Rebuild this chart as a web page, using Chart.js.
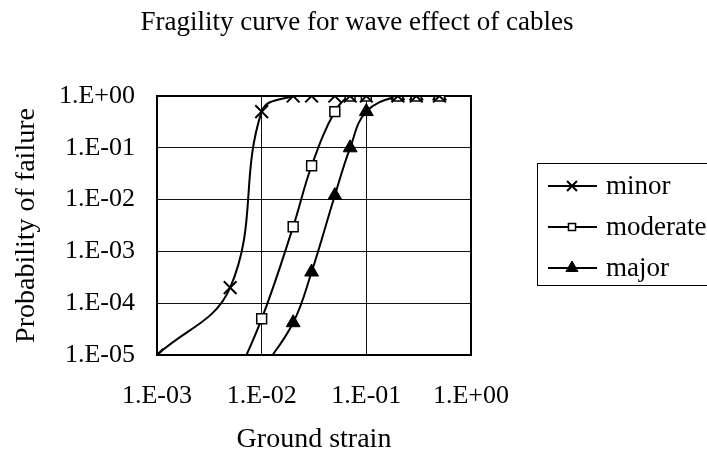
<!DOCTYPE html>
<html>
<head>
<meta charset="utf-8">
<script src="https://cdn.jsdelivr.net/npm/chart.js@4/dist/chart.umd.min.js"></script>
<style>
  html, body { margin: 0; padding: 0; background: #fff; }
  #wrap { width: 707px; height: 461px; position: relative; }
</style>
</head>
<body>
<div id="wrap"><canvas id="chart"></canvas></div>
<script>
// ground strain values (x) and failure probabilities per damage level
const strain   = [0.001, 0.005, 0.01, 0.02, 0.03, 0.05, 0.07, 0.1, 0.2, 0.3, 0.5];
const minor    = [1e-5, 2e-4, 0.5, 1, 1, 1, 1, 1, 1, 1, 1];
const moderate = [null, 2e-6, 5e-5, 3e-3, 0.045, 0.5, 1, 1, 1, 1, 1];
const major    = [null, null, 5e-6, 4.2e-5, 4e-4, 0.012, 0.1, 0.5, 1, 1, 1];

const seriesNames = ['minor', 'moderate', 'major'];
const xTicks = [0.001, 0.01, 0.1, 1];
const yTicks = [1e-5, 1e-4, 1e-3, 1e-2, 1e-1, 1];

const titleText = 'Fragility curve for wave effect of cables';
const xTitle = 'Ground strain';
const yTitle = 'Probability of failure';

const serif = "'Liberation Serif', 'Times New Roman', serif";

function toPoints(ys) {
    let pts = [];
    for (let i = 0; i < strain.length; i++) {
        if (ys[i] !== null) pts.push({ x: strain[i], y: ys[i] });
    }
    return pts;
}

function expLabel(v) {
    const e = Math.round(Math.log10(v));
    const sign = e < 0 ? '-' : '+';
    const n = String(Math.abs(e)).padStart(2, '0');
    return `1.E${sign}${n}`;
}

const styles = [
    { pointStyle: 'crossRot', radius: 9, fill: '#000', borderWidth: 2 },
    { pointStyle: 'rect', radius: 7, fill: '#fff', borderWidth: 1.5 },
    { pointStyle: 'triangle', radius: 8, fill: '#000', borderWidth: 1 }
];

const datasets = [minor, moderate, major].map((ys, i) => ({
    label: seriesNames[i],
    data: toPoints(ys),
    showLine: true,
    borderColor: '#000',
    borderWidth: 2,
    tension: 0.4,
    pointStyle: styles[i].pointStyle,
    pointRadius: styles[i].radius,
    pointBackgroundColor: styles[i].fill,
    pointBorderColor: '#000',
    pointBorderWidth: styles[i].borderWidth
}));

// title, plot frame and boxed legend drawn on the canvas
const extras = {
    id: 'extras',
    beforeDatasetsDraw(chart) {
        const { ctx, chartArea: a } = chart;
        ctx.save();
        ctx.strokeStyle = '#000';
        ctx.lineWidth = 2;
        ctx.strokeRect(a.left, a.top, a.right - a.left, a.bottom - a.top);
        ctx.restore();
    },
    afterDraw(chart) {
        const ctx = chart.ctx;
        ctx.save();
        ctx.fillStyle = '#000';
        ctx.font = `27px ${serif}`;
        ctx.textAlign = 'center';
        ctx.textBaseline = 'middle';
        ctx.fillText(titleText, 357, 23);

        // legend
        ctx.strokeStyle = '#000';
        ctx.lineWidth = 1;
        ctx.strokeRect(537.5, 163.5, 200, 122);
        const rows = [186, 227, 268];
        ctx.font = `27px ${serif}`;
        ctx.textAlign = 'left';
        for (let i = 0; i < 3; i++) {
            const y = rows[i];
            ctx.strokeStyle = '#000';
            ctx.lineWidth = 2;
            ctx.beginPath();
            ctx.moveTo(548, y);
            ctx.lineTo(597, y);
            ctx.stroke();
            ctx.fillStyle = styles[i].fill;
            ctx.lineWidth = styles[i].borderWidth;
            Chart.helpers.drawPoint(ctx, {
                pointStyle: styles[i].pointStyle,
                radius: i === 1 ? 5 : 7,
                rotation: 0,
                borderWidth: styles[i].borderWidth
            }, 572, y);
            ctx.fillStyle = '#000';
            ctx.fillText(seriesNames[i], 606, y + 1);
        }
        ctx.restore();
    }
};

new Chart(document.getElementById('chart'), {
    type: 'scatter',
    data: { datasets: datasets },
    options: {
        responsive: true,
        maintainAspectRatio: false,
        animation: false,
        layout: { padding: { top: 96, right: 236, left: 0, bottom: 0 } },
        plugins: {
            legend: { display: false },
            tooltip: { enabled: false }
        },
        scales: {
            x: {
                type: 'logarithmic',
                min: 0.001,
                max: 1,
                afterFit: (s) => { s.height = 106; },
                afterBuildTicks: (s) => { s.ticks = xTicks.map(v => ({ value: v })); },
                grid: { color: '#111', lineWidth: 1, drawTicks: false },
                border: { color: '#000', width: 2 },
                ticks: {
                    color: '#000',
                    padding: 26,
                    maxRotation: 0,
                    font: { family: serif, size: 26 },
                    callback: (v) => expLabel(v)
                },
                title: {
                    display: true,
                    text: xTitle,
                    color: '#000',
                    font: { family: serif, size: 28 },
                    padding: { top: 0, bottom: 5 }
                }
            },
            y: {
                type: 'logarithmic',
                min: 1e-5,
                max: 1,
                afterFit: (s) => { s.width = 157; },
                afterBuildTicks: (s) => { s.ticks = yTicks.map(v => ({ value: v })); },
                grid: { color: '#111', lineWidth: 1, drawTicks: false },
                border: { color: '#000', width: 2 },
                ticks: {
                    color: '#000',
                    padding: 22,
                    font: { family: serif, size: 26 },
                    callback: (v) => expLabel(v)
                },
                title: {
                    display: true,
                    text: yTitle,
                    color: '#000',
                    font: { family: serif, size: 28 },
                    padding: { top: 10, bottom: 0 }
                }
            }
        }
    },
    plugins: [extras]
});
</script>
</body>
</html>
